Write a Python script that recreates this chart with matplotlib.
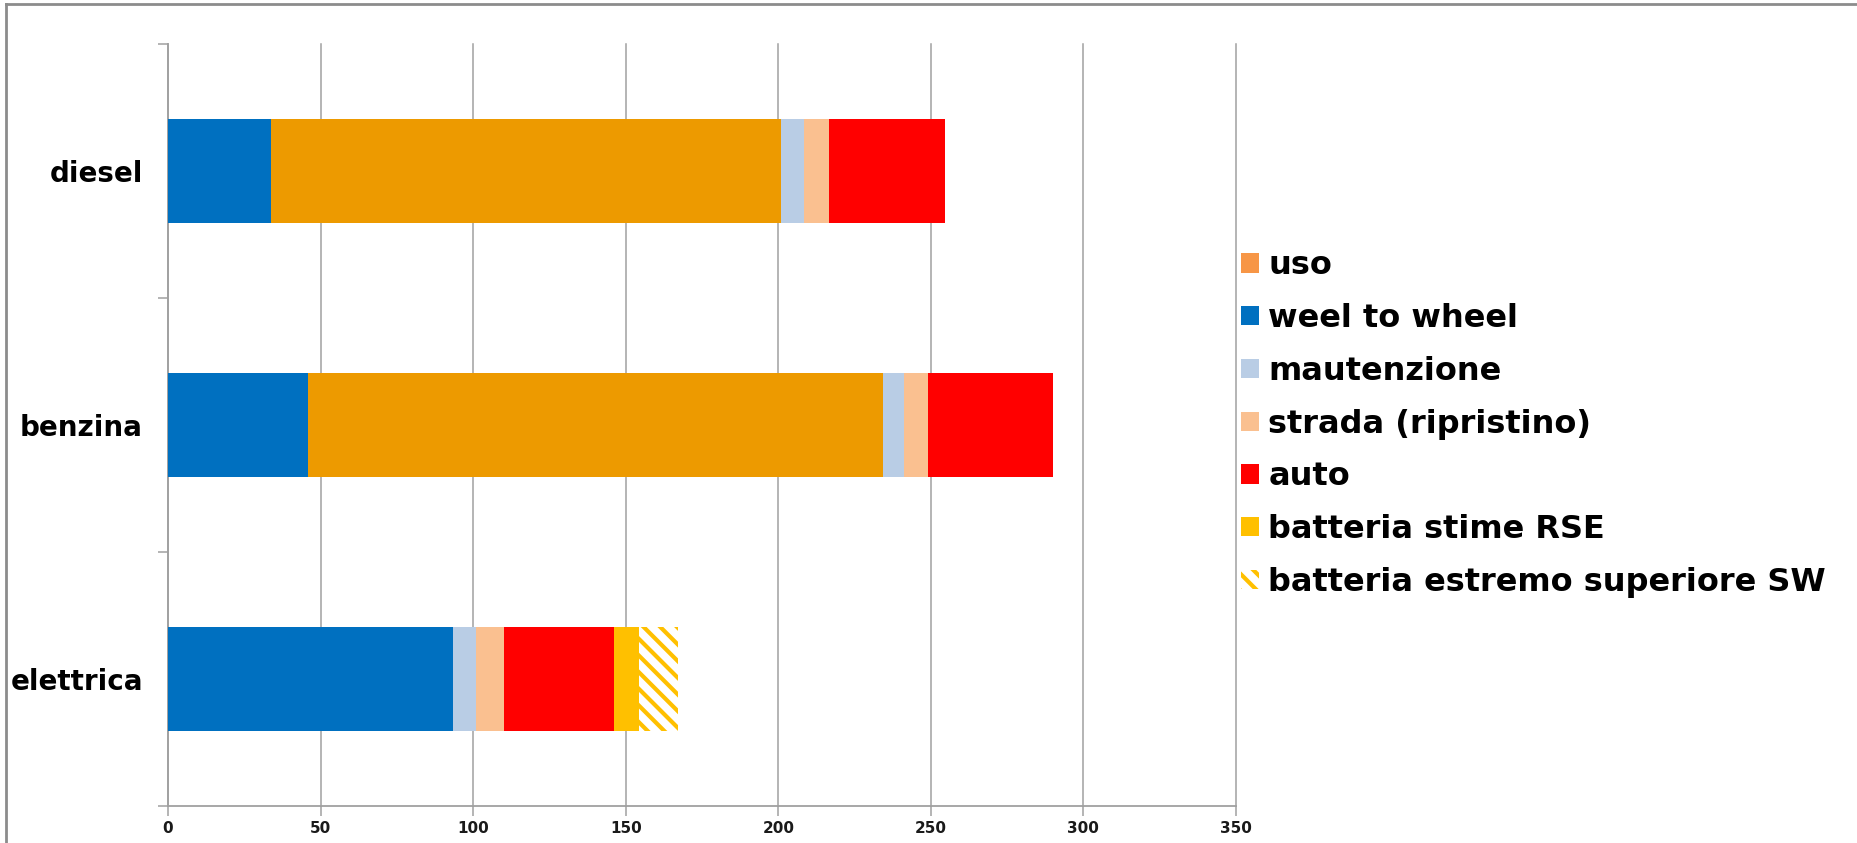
import numpy as np
import matplotlib
matplotlib.use("Agg")
import matplotlib.pyplot as plt
from matplotlib.patches import Patch
from matplotlib.lines import Line2D

categorie = ["diesel", "benzina", "elettrica"]
weel_to_wheel = [33.6, 45.9, 93.5]
uso = [167.3, 188.4, 0.0]
mautenzione = [7.4, 7.0, 7.3]
strada = [8.3, 7.9, 9.2]
auto = [37.9, 40.9, 36.1]
batteria_rse = [0.0, 0.0, 8.4]
batteria_sw = [0.0, 0.0, 12.6]

x_ticks = [0, 50, 100, 150, 200, 250, 300, 350]

plt.rcParams['hatch.linewidth'] = 3.0

fig = plt.figure(figsize=(18.58, 8.43), dpi=100)
ax = fig.add_axes([168/1858, 1-806/843, (1236-168)/1858, (806-44)/843])
ax.set_facecolor('none')

y = np.arange(len(categorie))[::-1]
h = 0.41

serie = [
    (weel_to_wheel, '#0070C0'),
    (uso, '#ED9A00'),
    (mautenzione, '#B9CDE5'),
    (strada, '#FAC090'),
    (auto, '#FF0000'),
    (batteria_rse, '#FFC000'),
]
left = np.zeros(len(categorie))
for vals, col in serie:
    vals = np.array(vals)
    ax.barh(y, vals, height=h, left=left, color=col, linewidth=0, zorder=3)
    left += vals
# parte tratteggiata
vals = np.array(batteria_sw)
ax.barh(y, vals, height=h, left=left, facecolor='white', edgecolor='#FFC000',
        hatch='\\\\', linewidth=0, zorder=3)

ax.set_xlim(0, 350)
ax.set_ylim(-0.5, 2.5)
ax.set_xticks(x_ticks)
ax.set_xticklabels([str(v) for v in x_ticks], fontsize=11, fontweight='bold', color='#1a1a1a')
ax.grid(axis='x', color='#A0A0A0', linewidth=1.1, zorder=0)
for gl in ax.get_xgridlines():
    gl.set_clip_on(False)

ax.set_yticks(y)
ax.set_yticklabels(categorie, fontsize=20, fontweight='bold', color='black')
ax.set_yticks([-0.5, 0.5, 1.5, 2.5], minor=True)
ax.tick_params(axis='y', which='major', length=0, pad=18)
ax.tick_params(axis='y', which='minor', length=7, width=1.1, color='#A0A0A0', direction='out')
ax.tick_params(axis='x', which='major', length=7, width=1.1, color='#A0A0A0', pad=4)

for s in ['top', 'right']:
    ax.spines[s].set_visible(False)
for s in ['left', 'bottom']:
    ax.spines[s].set_color('#A0A0A0')
    ax.spines[s].set_linewidth(1.3)

# legenda
handles = [
    Patch(facecolor='#F79646', label='uso'),
    Patch(facecolor='#0070C0', label='weel to wheel'),
    Patch(facecolor='#B9CDE5', label='mautenzione'),
    Patch(facecolor='#FAC090', label='strada (ripristino)'),
    Patch(facecolor='#FF0000', label='auto'),
    Patch(facecolor='#FFC000', label='batteria stime RSE'),
    Patch(facecolor='white', edgecolor='#FFC000', hatch='\\\\', linewidth=0,
          label='batteria estremo superiore SW'),
]
leg = fig.legend(handles=handles, loc='center left', bbox_to_anchor=(1241/1858, 1-424/843),
                 frameon=False, prop={'size': 23, 'weight': 'bold'},
                 handlelength=0.55, handleheight=0.55, handletextpad=0.3,
                 labelspacing=0.68, borderpad=0, borderaxespad=0)

# cornice
fig.add_artist(Line2D([6/1858, 1], [1-4/843, 1-4/843], color='#8C8C8C', linewidth=2))
fig.add_artist(Line2D([6/1858, 6/1858], [0, 1-4/843], color='#8C8C8C', linewidth=2))

fig.savefig('out.png', dpi=100)
